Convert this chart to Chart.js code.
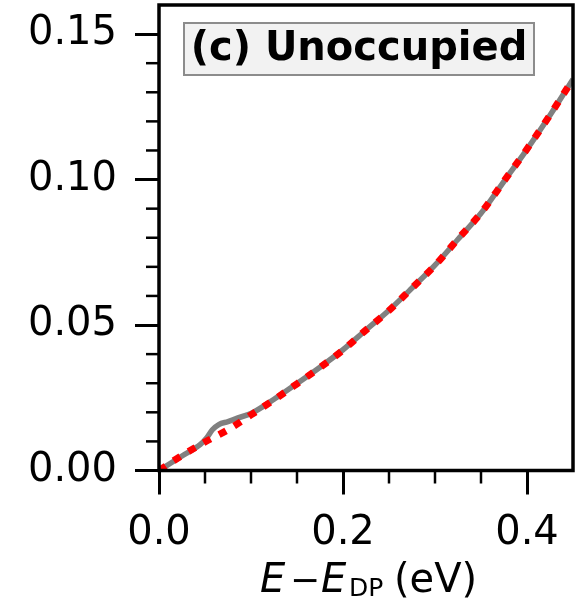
<!DOCTYPE html>
<html><head><meta charset="utf-8">
<script src="https://cdn.jsdelivr.net/npm/chart.js@4/dist/chart.umd.min.js"></script>
<style>html,body{margin:0;padding:0;background:#fff;} #wrap{width:582px;height:601px;}</style>
</head><body><div id="wrap"><canvas id="c" width="582" height="601"></canvas></div>
<script>
// ---- data ----
const fitEnergy = [0,0.025,0.05,0.075,0.1,0.125,0.15,0.175,0.2,0.225,0.25,0.275,0.3,0.325,0.35,0.375,0.4,0.425,0.45];
const fitValues = [0,0.0052,0.0098,0.0140,0.0191,0.0243,0.0298,0.0354,0.0414,0.0483,0.0550,0.0627,0.0705,0.0796,0.0885,0.0995,0.1105,0.1222,0.1345];
const dataEnergy = [0,0.025,0.045,0.052,0.058,0.065,0.075,0.085,0.1,0.125,0.15,0.175,0.2,0.225,0.25,0.275,0.3,0.325,0.35,0.375,0.4,0.425,0.45];
const dataValues = [0,0.0050,0.0090,0.0113,0.0140,0.0158,0.0168,0.0180,0.0196,0.0245,0.0299,0.0355,0.0415,0.0483,0.0551,0.0627,0.0706,0.0795,0.0884,0.0994,0.1104,0.1221,0.1345];
const xMajorTicks = [0, 0.2, 0.4];
const xMinorTicks = [0.05, 0.1, 0.15, 0.25, 0.3, 0.35];
const yMajorTicks = [0, 0.05, 0.1, 0.15];
const yMinorTicks = [0.01,0.02,0.03,0.04,0.06,0.07,0.08,0.09,0.11,0.12,0.13,0.14];
const panelTitle = '(c) Unoccupied';
const FONT = "'DejaVu Sans'";

const toXY = (xs, ys) => xs.map((v, i) => ({x: v, y: ys[i]}));

const deco = {
  id: 'deco',
  afterDraw(chart) {
    const {ctx, chartArea: a, scales: {x, y}} = chart;
    ctx.save();
    ctx.strokeStyle = '#000';
    ctx.lineCap = 'butt';
    ctx.lineWidth = 2.5;
    xMinorTicks.forEach(v => {
      const px = x.getPixelForValue(v);
      ctx.beginPath(); ctx.moveTo(px, a.bottom); ctx.lineTo(px, a.bottom + 13); ctx.stroke();
    });
    yMinorTicks.forEach(v => {
      const py = y.getPixelForValue(v);
      ctx.beginPath(); ctx.moveTo(a.left, py); ctx.lineTo(a.left - 13, py); ctx.stroke();
    });
    // frame
    ctx.lineWidth = 3.5;
    ctx.strokeRect(a.left, a.top, a.right - a.left, a.bottom - a.top);

    // panel title box
    const bx = a.left + 25, by = a.top + 18, bw = 350, bh = 52;
    ctx.fillStyle = '#f2f2f2';
    ctx.fillRect(bx, by, bw, bh);
    ctx.strokeStyle = '#8c8c8c';
    ctx.lineWidth = 2;
    ctx.strokeRect(bx, by, bw, bh);
    ctx.fillStyle = '#000';
    ctx.font = 'bold 40px ' + FONT;
    ctx.textAlign = 'center';
    ctx.textBaseline = 'middle';
    ctx.fillText(panelTitle, bx + bw / 2, by + bh / 2 + 1);

    // x axis label: E − E_DP (eV)
    const cx = (a.left + a.right) / 2;
    const base = a.bottom + 121;
    ctx.textAlign = 'left';
    ctx.textBaseline = 'alphabetic';
    ctx.font = 'italic 40px ' + FONT;
    ctx.fillText('E', cx - 106, base);
    ctx.font = '36px ' + FONT;
    ctx.fillText('\u2212', cx - 76, base);
    ctx.font = 'italic 40px ' + FONT;
    ctx.fillText('E', cx - 45, base);
    ctx.font = '25px ' + FONT;
    ctx.fillText('DP', cx - 17, base + 4);
    ctx.font = '40px ' + FONT;
    ctx.fillText('(eV)', cx + 28, base);
    ctx.restore();
  }
};

new Chart(document.getElementById('c'), {
  type: 'line',
  data: {
    datasets: [
      {data: toXY(fitEnergy, fitValues), borderColor: '#ff0000', borderWidth: 7, borderDash: [8, 9.5],
       borderCapStyle: 'butt', pointRadius: 0, cubicInterpolationMode: 'monotone', order: 0},
      {data: toXY(dataEnergy, dataValues), borderColor: '#808080', borderWidth: 5.5,
       pointRadius: 0, cubicInterpolationMode: 'monotone', order: 1}
    ]
  },
  options: {
    responsive: false, animation: false, devicePixelRatio: 1,
    layout: {padding: {left: 0, right: 9, top: 5, bottom: 0}},
    plugins: {legend: {display: false}, tooltip: {enabled: false}},
    scales: {
      x: {
        type: 'linear', min: 0, max: 0.45,
        afterBuildTicks: s => { s.ticks = xMajorTicks.map(v => ({value: v})); },
        afterFit: s => { s.height = 130.5; s.paddingLeft = 0; s.paddingRight = 0; },
        grid: {drawOnChartArea: false, tickLength: 24, tickWidth: 3, tickColor: '#000', color: '#000'},
        border: {display: false},
        ticks: {font: {family: 'DejaVu Sans', size: 40}, color: '#000', padding: 15, maxRotation: 0,
                callback: v => Number(v).toFixed(1)}
      },
      y: {
        type: 'linear', min: 0, max: 0.16,
        afterBuildTicks: s => { s.ticks = yMajorTicks.map(v => ({value: v})); },
        afterFit: s => { s.width = 159; s.paddingTop = 0; s.paddingBottom = 0; },
        grid: {drawOnChartArea: false, tickLength: 24, tickWidth: 3, tickColor: '#000', color: '#000'},
        border: {display: false},
        ticks: {font: {family: 'DejaVu Sans', size: 40}, color: '#000', padding: 18,
                callback: v => Number(v).toFixed(2)}
      }
    }
  },
  plugins: [deco]
});
</script></body></html>
